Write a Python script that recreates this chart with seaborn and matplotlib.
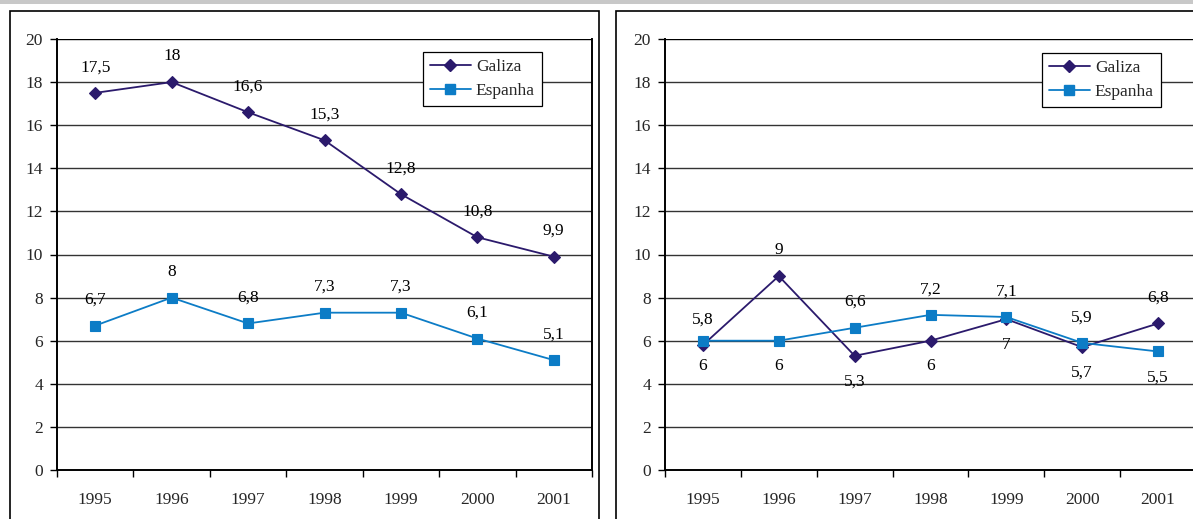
import numpy as np
import pandas as pd
import matplotlib
matplotlib.use("Agg")
import matplotlib.pyplot as plt
from matplotlib.patches import Rectangle
from matplotlib.lines import Line2D
import seaborn as sns

years = ["1995", "1996", "1997", "1998", "1999", "2000", "2001"]

# left chart
galiza_a = [17.5, 18, 16.6, 15.3, 12.8, 10.8, 9.9]
espanha_a = [6.7, 8, 6.8, 7.3, 7.3, 6.1, 5.1]

# right chart
galiza_b = [5.8, 9, 5.3, 6, 7, 5.7, 6.8]
espanha_b = [6, 6, 6.6, 7.2, 7.1, 5.9, 5.5]

series_names = ["Galiza", "Espanha"]

# label placement per point (+1 above the marker, -1 below)
side_a = {"Galiza": [1] * 7, "Espanha": [1] * 7}
side_b = {"Galiza": [1, 1, -1, -1, -1, -1, 1],
          "Espanha": [-1, -1, 1, 1, 1, 1, -1]}

colors = {"Galiza": "#2B1A6C", "Espanha": "#0C7CC6"}
markers = {"Galiza": "D", "Espanha": "s"}
msizes = {"Galiza": 6.3, "Espanha": 7.0}

FS = 12.5

W, H = 1193, 519
sns.set_theme(style="white")
plt.rcParams["font.family"] = ["Liberation Serif", "DejaVu Serif"]
plt.rcParams["font.size"] = FS

fig = plt.figure(figsize=(W / 100, H / 100), dpi=100)


def fx(px):
    return px / W


def fy(py):
    return 1 - py / H


# top strip
fig.patches.append(Rectangle((0, fy(4)), 1, 4 / H, transform=fig.transFigure,
                             facecolor="#C8C8C8", edgecolor="none", zorder=0))
# chart area borders
for x0, x1 in [(10, 599), (616, 1240)]:
    fig.patches.append(Rectangle((fx(x0), fy(560)), fx(x1 - x0), (560 - 11) / H,
                                 transform=fig.transFigure, facecolor="none",
                                 edgecolor="black", linewidth=1.2, zorder=1))


def draw(ax_rect, galiza, espanha, sides, legend_xy):
    ax = fig.add_axes(ax_rect)
    df = pd.DataFrame({
        "ano": years * 2,
        "valor": galiza + espanha,
        "serie": ["Galiza"] * len(years) + ["Espanha"] * len(years),
    })
    for name in series_names:
        sub = df[df["serie"] == name]
        sns.lineplot(data=sub, x="ano", y="valor", ax=ax, color=colors[name],
                     marker=markers[name], markersize=msizes[name],
                     markeredgecolor=colors[name], markeredgewidth=0.8,
                     linewidth=1.3, sort=False, zorder=3)
        for i, (yr, v) in enumerate(zip(sub["ano"], sub["valor"])):
            s = sides[name][i]
            ax.annotate(f"{v:g}".replace(".", ","), (yr, v),
                        xytext=(0, 18.5 * s), textcoords="offset points",
                        ha="center", va="center", fontsize=FS, color="black",
                        zorder=4)

    ax.set_xlim(-0.5, len(years) - 0.5)
    ax.set_ylim(0, 20)
    ax.set_yticks(np.arange(0, 21, 2))
    ax.set_xlabel("")
    ax.set_ylabel("")
    ax.grid(False)
    for yv in np.arange(2, 21, 2):
        ax.axhline(yv, color="#333333" if yv < 20 else "black",
                   linewidth=1.0, zorder=1)
    # ticks on category boundaries
    ax.set_xticks(np.arange(-0.5, len(years), 1), minor=True)
    ax.tick_params(axis="x", which="major", length=0, pad=15.5, labelsize=FS)
    ax.tick_params(axis="x", which="minor", length=5, width=1, color="black",
                   direction="out", bottom=True)
    ax.tick_params(axis="y", which="major", length=5, width=1, color="black",
                   direction="out", left=True, pad=5, labelsize=FS)
    for sp in ["left", "bottom", "right"]:
        ax.spines[sp].set_visible(True)
        ax.spines[sp].set_color("black")
        ax.spines[sp].set_linewidth(1.4)
    ax.spines["top"].set_visible(False)
    ax.set_facecolor("white")

    handles = [Line2D([], [], color=colors[n], marker=markers[n],
                      markersize=msizes[n], markeredgecolor=colors[n],
                      linewidth=1.3) for n in series_names]
    leg = ax.legend(handles, series_names, loc="upper left",
                    bbox_to_anchor=legend_xy, bbox_transform=fig.transFigure,
                    frameon=True, fancybox=False, shadow=False,
                    borderaxespad=0, borderpad=0.4, handlelength=2.35,
                    handletextpad=0.3, labelspacing=0.45, fontsize=FS)
    leg.get_frame().set_edgecolor("black")
    leg.get_frame().set_linewidth(0.9)
    leg.get_frame().set_facecolor("white")
    leg.get_frame().set_alpha(1)
    leg.set_zorder(5)
    return ax


draw([fx(57), fy(470), fx(592 - 57), (470 - 39) / H],
     galiza_a, espanha_a, side_a, (fx(423), fy(52)))
draw([fx(665), fy(470), fx(531), (470 - 39) / H],
     galiza_b, espanha_b, side_b, (fx(1042), fy(53)))

fig.savefig("out.png", dpi=100)
